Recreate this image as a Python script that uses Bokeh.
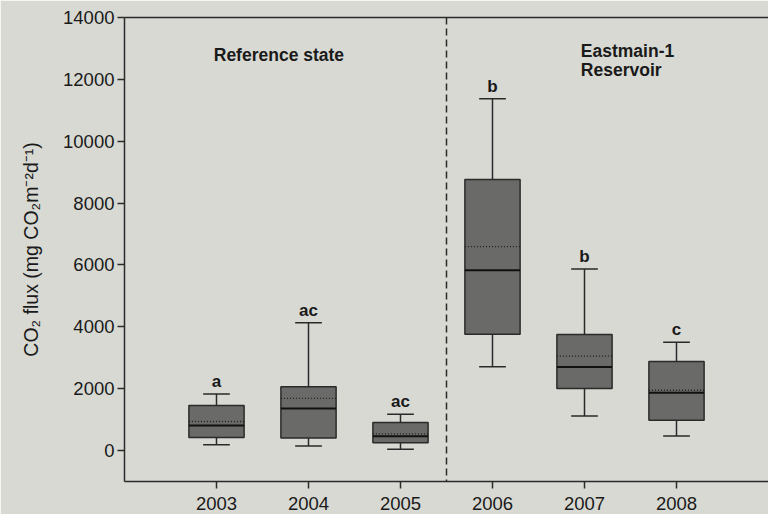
import numpy as np
from bokeh.plotting import figure
from bokeh.models import Span, Label, LinearAxis, FixedTicker, ColumnDataSource
from bokeh.core.properties import value
from bokeh.embed import file_html
from bokeh.resources import INLINE

# ---- data ----
years = [2003, 2004, 2005, 2006, 2007, 2008]
whisker_low = [190, 150, 40, 2710, 1120, 470]
q1 = [420, 410, 250, 3760, 2010, 980]
median = [810, 1360, 460, 5830, 2700, 1870]
mean = [940, 1690, 540, 6590, 3050, 1950]
q3 = [1460, 2060, 910, 8760, 3750, 2880]
whisker_high = [1830, 4130, 1170, 11370, 5870, 3500]
letters = ["a", "ac", "ac", "b", "b", "c"]
y_ticks = [0, 2000, 4000, 6000, 8000, 10000, 12000, 14000]

BG = "#d8d9d3"
BOX = "#6a6b69"
INK = "#2a2a2a"
FONT = "Liberation Sans"

yr = np.array(years, dtype=float)
box_w = 0.6
cap_w = 0.29

src = ColumnDataSource(dict(
    x=yr, lo=whisker_low, q1=q1, med=median, mean=mean, q3=q3, hi=whisker_high,
    xl=yr - box_w / 2, xr=yr + box_w / 2,
    cl=yr - cap_w / 2, cr=yr + cap_w / 2,
    lab=letters,
))

p = figure(width=768, height=514, x_range=(2002, 2009), y_range=(-1000, 14000),
           output_backend="svg", toolbar_location=None,
           min_border_left=124, min_border_top=17, min_border_right=0, min_border_bottom=33)
p.background_fill_color = BG
p.border_fill_color = BG
p.outline_line_color = None
p.xgrid.visible = False
p.ygrid.visible = False

# whiskers
p.segment(x0="x", y0="q3", x1="x", y1="hi", source=src, line_color=INK, line_width=1.5)
p.segment(x0="x", y0="q1", x1="x", y1="lo", source=src, line_color=INK, line_width=1.5)
p.segment(x0="cl", y0="hi", x1="cr", y1="hi", source=src, line_color=INK, line_width=1.5)
p.segment(x0="cl", y0="lo", x1="cr", y1="lo", source=src, line_color=INK, line_width=1.5)
# boxes
p.vbar(x="x", width=box_w, bottom="q1", top="q3", source=src,
       fill_color=BOX, line_color=INK, line_width=1.5)
# median and mean
p.segment(x0="xl", y0="med", x1="xr", y1="med", source=src, line_color="#111111", line_width=2)
p.segment(x0="xl", y0="mean", x1="xr", y1="mean", source=src, line_color="#1e1e1e",
          line_width=1.3, line_dash="1 2")
# significance letters
p.text(x="x", y="hi", text="lab", source=src, y_offset=-12.5,
       text_align="center", text_baseline="middle",
       text_font=value(FONT), text_font_style="bold", text_font_size="17px", text_color="#1a1a1a")

# divider
p.add_layout(Span(location=2005.5, dimension="height", line_color=INK,
                  line_width=1.5, line_dash="7 4"))

# group annotations
for txt, x, y in [("Reference state", 2002.97, 12800),
                  ("Eastmain-1", 2006.96, 12930),
                  ("Reservoir", 2006.96, 12300)]:
    p.add_layout(Label(x=x, y=y, text=txt, text_font=FONT, text_font_style="bold",
                       text_font_size="17.5px", text_color="#1a1a1a",
                       text_align="left", text_baseline="middle"))

# axes
p.xaxis.ticker = FixedTicker(ticks=years)
p.xaxis.major_label_overrides = {y: str(y) for y in years}
p.yaxis.ticker = FixedTicker(ticks=y_ticks)
for ax in (p.xaxis[0], p.yaxis[0]):
    ax.axis_line_color = INK
    ax.axis_line_width = 1.5
    ax.major_tick_line_color = INK
    ax.major_tick_line_width = 1.5
    ax.major_tick_in = 0
    ax.major_tick_out = 7
    ax.minor_tick_line_color = None
    ax.major_label_text_font = FONT
    ax.major_label_text_font_size = "18.5px"
    ax.major_label_text_color = "#1a1a1a"
p.xaxis.major_label_standoff = 8
p.yaxis.major_label_standoff = 3
p.yaxis.axis_label = "CO\u2082 flux (mg CO\u2082m\u207b\u00b2d\u207b\u00b9)"
p.yaxis.axis_label_text_font = FONT
p.yaxis.axis_label_text_font_style = "normal"
p.yaxis.axis_label_text_font_size = "19.5px"
p.yaxis.axis_label_text_color = "#1a1a1a"
p.yaxis.axis_label_standoff = 18

top = LinearAxis(ticker=FixedTicker(ticks=[]), axis_line_color=INK, axis_line_width=1.5,
                 major_tick_line_color=None, minor_tick_line_color=None,
                 major_label_text_font_size="0px")
p.add_layout(top, "above")

open("out.html", "w").write(file_html(p, INLINE))
